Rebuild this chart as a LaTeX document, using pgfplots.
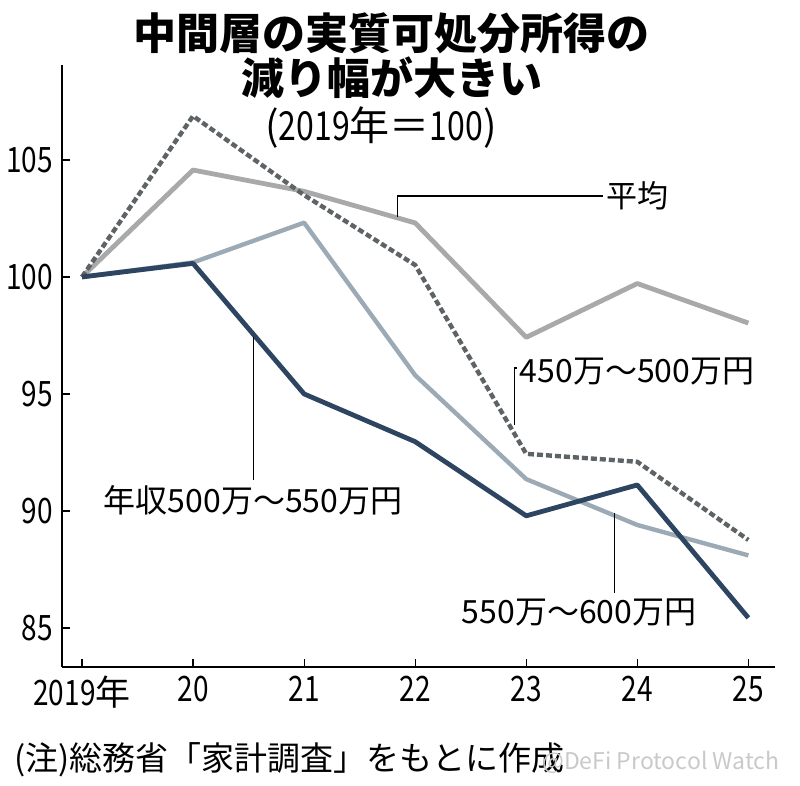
\documentclass[border=0pt]{standalone}
\usepackage{pgfplots}
\pgfplotsset{compat=1.18}
\usepackage{fontspec}
\setmainfont{Noto Sans CJK JP}
\definecolor{avgc}{HTML}{A9A9A9}
\definecolor{dashc}{HTML}{5E6366}
\definecolor{lbluec}{HTML}{9CAAB6}
\definecolor{navyc}{HTML}{2D4561}
\definecolor{wmc}{HTML}{C9C9C9}
\newcommand{\tk}[1]{\scalebox{0.8}[1]{#1}}
\begin{document}
\begin{tikzpicture}
\useasboundingbox (-31pt,-59.5pt) rectangle (369pt,333.5pt);
\begin{axis}[
  at={(0,0)}, anchor=south west,
  scale only axis, width=356.5pt, height=301pt,
  xmin=2018.82, xmax=2025.24, ymin=83.33, ymax=109.06,
  axis x line=bottom, axis y line=left,
  axis line style={-, line width=0.7pt, black},
  tick align=inside, major tick length=4pt,
  tick style={line width=0.6pt, black},
  xtick={2019,2020,2021,2022,2023,2024,2025},
  xticklabels={\tk{2019}年,\tk{20},\tk{21},\tk{22},\tk{23},\tk{24},\tk{25}},
  ytick={85,90,95,100,105},
  yticklabels={\tk{85},\tk{90},\tk{95},\tk{100},\tk{105}},
  ticklabel style={font=\fontsize{17.5}{17.5}\selectfont},
  yticklabel style={anchor=east, xshift=-1pt},
  xticklabel style={anchor=north, yshift=-1pt},
  clip=false,
]
\addplot[avgc, line width=2.4pt, line join=round] coordinates {
 (2019,100) (2020,104.57) (2021,103.66) (2022,102.31) (2023,97.42) (2024,99.72) (2025,98.03)};
\addplot[lbluec, line width=2.2pt, line join=round] coordinates {
 (2019,100) (2020,100.62) (2021,102.32) (2022,95.8) (2023,91.36) (2024,89.4) (2025,88.1)};
\addplot[dashc, line width=2.2pt, dash pattern=on 3pt off 1.5pt] coordinates {
 (2019,100) (2020,106.88) (2021,103.5) (2022,100.51) (2023,92.44) (2024,92.1) (2025,88.76)};
\addplot[navyc, line width=2.4pt, line join=round] coordinates {
 (2019,100) (2020,100.58) (2021,95.0) (2022,92.96) (2023,89.79) (2024,91.11) (2025,85.43)};
% leaders
\draw[black, line width=0.6pt] (axis cs:2021.838,102.56) -- (axis cs:2021.838,103.46) -- (axis cs:2023.694,103.46);
\node[anchor=west, inner sep=1pt, font=\fontsize{15.5}{15.5}\selectfont] at (axis cs:2023.70,103.46) {平均};
\draw[black, line width=0.6pt] (axis cs:2022.892,93.68) -- (axis cs:2022.892,96.11) -- (axis cs:2022.92,96.11);
\node[anchor=west, inner sep=0.5pt, font=\fontsize{16}{16}\selectfont] at (axis cs:2022.93,95.95) {450万～500万円};
\draw[black, line width=0.6pt] (axis cs:2020.541,97.44) -- (axis cs:2020.541,91.32);
\node[inner sep=0pt, font=\fontsize{16}{16}\selectfont] at (axis cs:2020.541,90.47) {年収500万～550万円};
\draw[black, line width=0.6pt] (axis cs:2023.793,89.91) -- (axis cs:2023.793,86.5);
\node[inner sep=0pt, font=\fontsize{16}{16}\selectfont] at (axis cs:2023.477,85.68) {550万～600万円};
\end{axis}
\node[font=\fontsize{21.5}{21.5}\selectfont\bfseries] at (165pt,317pt) {中間層の実質可処分所得の};
\node[font=\fontsize{21.5}{21.5}\selectfont\bfseries] at (165pt,294.5pt) {減り幅が大きい};
\node[font=\fontsize{20}{20}\selectfont] at (159.5pt,269.5pt) {(\tk{2019}年＝\tk{100})};
\node[anchor=west, inner sep=0pt, font=\fontsize{16.5}{16.5}\selectfont] at (-24pt,-46.5pt) {(注)総務省「家計調査」をもとに作成};
\node[anchor=west, inner sep=0pt, text=wmc, font=\fontsize{11.5}{11.5}\selectfont] at (240pt,-47.5pt) {@DeFi Protocol Watch};
\end{tikzpicture}
\end{document}
